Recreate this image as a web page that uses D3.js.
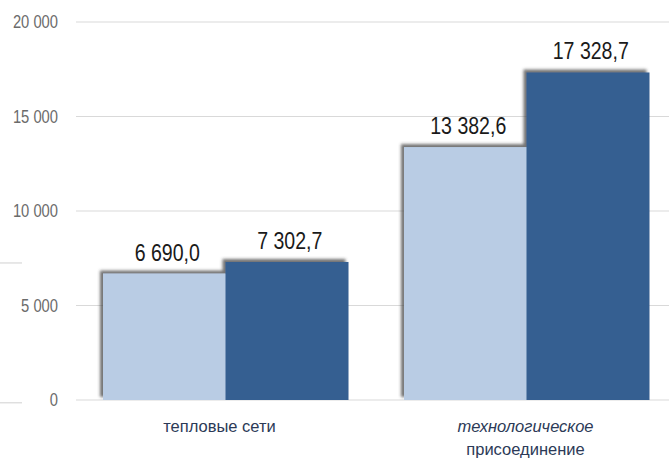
<!DOCTYPE html>
<html><head><meta charset="utf-8">
<script src="https://cdn.jsdelivr.net/npm/d3@7"></script>
<style>body{margin:0;background:#fff}svg{display:block}</style>
</head><body>
<svg id="c" width="669" height="459"></svg>
<script>
const categories = ["тепловые сети", "технологическое присоединение"];
const seriesNames = ["s1", "s2"];
const series1 = [6690.0, 13382.6];
const series2 = [7302.7, 17328.7];
const valueLabels1 = ["6 690,0", "13 382,6"];
const valueLabels2 = ["7 302,7", "17 328,7"];
const yTicks = [0, 5000, 10000, 15000, 20000];
const yTickLabels = ["0", "5 000", "10 000", "15 000", "20 000"];
const colors = ["#b9cce4", "#365f91"];

const svg = d3.select("#c");
const defs = svg.append("defs");
const f = defs.append("filter").attr("id","sh").attr("x","-20%").attr("y","-20%").attr("width","140%").attr("height","140%");
f.append("feDropShadow").attr("dx",-3).attr("dy",-3).attr("stdDeviation",1.6).attr("flood-color","#444").attr("flood-opacity",0.75);

const y = d3.scaleLinear().domain([0, 20000]).range([400, 22]);
const x0 = d3.scaleBand().domain(categories).range([76, 676]).paddingInner(0.186).paddingOuter(0.0897);
const x1 = d3.scaleBand().domain(seriesNames).range([0, x0.bandwidth()]).padding(0);

// gridlines
svg.append("g").selectAll("line").data(yTicks).join("line")
  .attr("x1", 76).attr("x2", 669)
  .attr("y1", d => y(d)).attr("y2", d => y(d))
  .attr("stroke", "#d9d9d9").attr("stroke-width", 1);

// stray fragments at left edge
svg.append("g").selectAll("line").data([7250, -150]).join("line")
  .attr("x1", 0).attr("x2", 22).attr("y1", d => y(d)).attr("y2", d => y(d))
  .attr("stroke", "#d0d0d0");

// y tick labels
svg.append("g").selectAll("text").data(yTicks).join("text")
  .attr("transform", d => `translate(58,${y(d) + 6}) scale(0.82,1)`)
  .attr("text-anchor", "end")
  .attr("font-family", "Liberation Sans, Arial, sans-serif")
  .attr("font-size", 18).attr("fill", "#6b6b6b")
  .text((d, i) => yTickLabels[i]);

const data = categories.map((c, i) => ({c, vals: [
  {s: "s1", v: series1[i], lab: valueLabels1[i], col: colors[0]},
  {s: "s2", v: series2[i], lab: valueLabels2[i], col: colors[1]}
]}));

const g = svg.append("g").selectAll("g").data(data).join("g")
  .attr("transform", d => `translate(${x0(d.c)},0)`);

g.append("g").attr("filter", "url(#sh)")
  .selectAll("rect").data(d => d.vals).join("rect")
  .attr("x", d => x1(d.s)).attr("width", x1.bandwidth() + 0.5)
  .attr("y", d => y(d.v)).attr("height", d => y(0) - y(d.v))
  .attr("fill", d => d.col);

g.selectAll("text.v").data(d => d.vals).join("text").attr("class","v")
  .attr("transform", d => `translate(${x1(d.s) + x1.bandwidth()/2 + 3},${y(d.v) - 13}) scale(0.85,1)`)
  .attr("text-anchor", "middle")
  .attr("font-family", "Liberation Sans, Arial, sans-serif")
  .attr("font-size", 23).attr("fill", "#1a1a1a")
  .text(d => d.lab);

// category labels
const catCol = "#2c3a57";
svg.append("text").attr("x", x0(categories[0]) + x0.bandwidth()/2 - 6).attr("y", 432)
  .attr("text-anchor","middle").attr("font-family","Liberation Sans, Arial, sans-serif")
  .attr("font-size", 16.5).attr("fill", catCol).text(categories[0]);
const parts = categories[1].split(" ");
const cx2 = x0(categories[1]) + x0.bandwidth()/2 - 1;
svg.append("text").attr("x", cx2).attr("y", 432)
  .attr("text-anchor","middle").attr("font-family","Liberation Sans, Arial, sans-serif")
  .attr("font-size", 16.5).attr("font-style","italic").attr("fill", catCol).text(parts[0]);
svg.append("text").attr("x", cx2).attr("y", 455)
  .attr("text-anchor","middle").attr("font-family","Liberation Sans, Arial, sans-serif")
  .attr("font-size", 16.5).attr("fill", catCol).text(parts[1]);
</script>
</body></html>
